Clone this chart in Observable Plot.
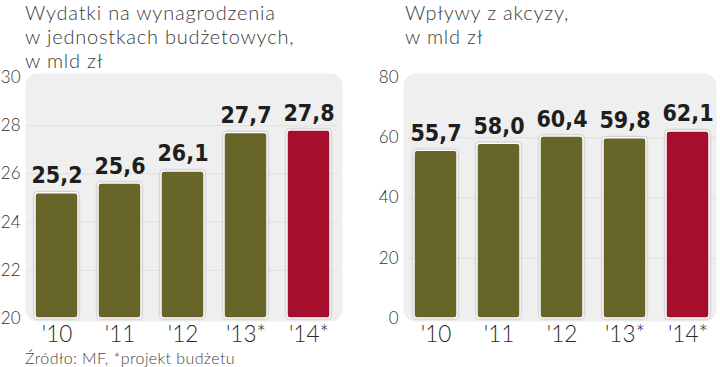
<!DOCTYPE html>
<html>
<head>
<meta charset="utf-8">
<script src="https://cdn.jsdelivr.net/npm/d3@7"></script>
<script src="https://cdn.jsdelivr.net/npm/@observablehq/plot@0.6"></script>
<style>
  html, body { margin: 0; padding: 0; background: #fff; }
  #wrap { position: relative; width: 720px; height: 367px; overflow: hidden; font-family: Lato, "Open Sans", sans-serif; }
  .chart { position: absolute; top: 0; }
  .title { position: absolute; top: 0; z-index: 3; font-family: Lato, sans-serif; font-weight: 300; font-size: 20px; line-height: 24px; letter-spacing: 0.8px; color: #3c3c3c; white-space: nowrap; }
  .source { position: absolute; left: 25px; top: 347.5px; z-index: 3; font-family: Lato, sans-serif; font-weight: 300; font-size: 16px; line-height: 19px; letter-spacing: 0.4px; color: #444; white-space: nowrap; }
  svg g[aria-label="bar"] rect { filter: drop-shadow(0 0 1.2px rgba(0,0,0,0.35)); }
</style>
</head>
<body>
<div id="wrap">
  <div class="chart" id="c1" style="left:0"></div>
  <div class="chart" id="c2" style="left:360px"></div>
  <div class="title" style="left:25px">Wydatki na wynagrodzenia<br>w jednostkach budżetowych,<br>w mld zł</div>
  <div class="title" style="left:405px">Wpływy z akcyzy,<br>w mld zł</div>
  <div class="source">Źródło: MF, *projekt budżetu</div>
</div>
<script>
const years = ["'10", "'11", "'12", "'13*", "'14*"];
const wages = [25.2, 25.6, 26.1, 27.7, 27.8];
const excise = [55.7, 58.0, 60.4, 59.8, 62.1];
const highlight = [false, false, false, false, true];
const wagesTicks = [20, 22, 24, 26, 28, 30];
const exciseTicks = [0, 20, 40, 60, 80];

const olive = "#676528";
const red = "#a50f2d";
const fmt = v => d3.format(".1f")(v).replace(".", ",");

function chart(values, ticks, opts) {
  const data = years.map((y, i) => ({year: y, value: values[i], hl: highlight[i]}));
  const base = ticks[0];
  return Plot.plot({
    width: 360,
    height: 367,
    marginTop: 77,
    marginBottom: 49,
    marginLeft: opts.marginLeft,
    marginRight: opts.marginRight,
    style: {background: "transparent", fontFamily: "Lato, sans-serif"},
    x: {domain: years, padding: 0.31, paddingOuter: 0.1, label: null},
    y: {domain: [ticks[0], ticks[ticks.length - 1]], label: null},
    marks: [
      Plot.frame({fill: "#efefef", stroke: null, rx: 12, insetTop: -4, insetBottom: -3, insetLeft: opts.insetLeft, insetRight: opts.insetRight}),
      Plot.gridY(ticks.slice(1, -1), {stroke: "#e0e0e0", strokeOpacity: 1, strokeWidth: 1}),
      Plot.axisY(ticks, {tickSize: 0, tickPadding: opts.tickPadding, fontSize: 17, fontWeight: 300, fill: "#333", tickFormat: d => d}),
      Plot.axisX({tickSize: 0, tickPadding: 8, fontSize: 22.5, fontWeight: 300, fill: "#2a2a2a"}),
      Plot.barY(data, {x: "year", y1: () => base, y2: "value", fill: d => d.hl ? red : olive, stroke: "#fff", strokeWidth: 1.5, rx: 3}),
      Plot.text(data, {x: "year", y: "value", text: d => fmt(d.value), dy: -10, lineAnchor: "bottom", fontSize: 23, fontWeight: "bold", fontFamily: "'DejaVu Sans Condensed', 'DejaVu Sans', sans-serif", fill: "#1e1e1e"})
    ]
  });
}

document.getElementById("c1").append(chart(wages, wagesTicks, {marginLeft: 27, marginRight: 22, insetLeft: -2, insetRight: -4, tickPadding: 7}));
document.getElementById("c2").append(chart(excise, exciseTicks, {marginLeft: 47, marginRight: 4, insetLeft: -4, insetRight: 0, tickPadding: 9}));
</script>
</body>
</html>
